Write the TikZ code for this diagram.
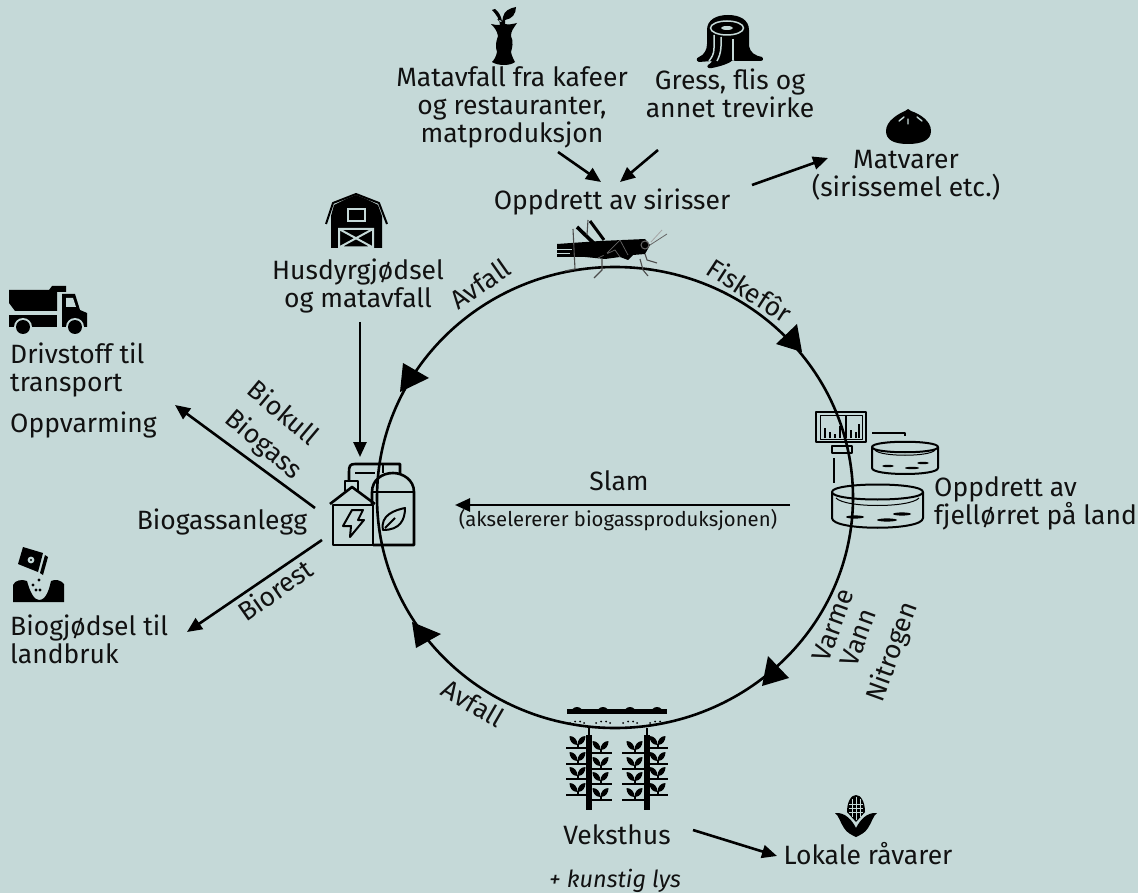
\documentclass[tikz,border=0pt]{standalone}
\usepackage{fontspec}
\setmainfont{Fira Sans}[ItalicFont=* Italic]
\usetikzlibrary{arrows.meta}
\definecolor{bg}{HTML}{C5D9D8}
\definecolor{ink}{HTML}{111111}
\tikzset{
 x=1pt,y=-1pt,
 txt/.style={font=\fontsize{26.5}{28}\selectfont,text=ink,inner sep=0pt,align=center},
 ltxt/.style={txt,align=left,anchor=west},
 small/.style={font=\fontsize{20.3}{24}\selectfont,text=ink,inner sep=0pt},
 link/.style={draw=black,line width=2.6pt,-{Triangle[length=15pt,width=13pt]}},
 ring/.style={draw=black,line width=2.6pt},
 head/.style={fill=black,draw=none},
 solid ink/.style={fill=black,draw=none},
 thick ink/.style={draw=black,line width=2.6pt,line join=round},
 thin ink/.style={draw=black,line width=1.6pt,line join=round},
}
\newcommand{\seedling}[2]{% x, y of shelf centre
 \pgfmathsetmacro{\sx}{#1}\pgfmathsetmacro{\sy}{#2}
 \draw[black,line width=2pt] (\sx,\sy) -- (\sx,\sy-4);
 \fill[black] (\sx,\sy-3) .. controls (\sx-6,\sy-3) and (\sx-8,\sy-8) .. (\sx-8,\sy-12) .. controls (\sx-3,\sy-12) and (\sx,\sy-8) .. (\sx,\sy-3) -- cycle;
 \fill[black] (\sx,\sy-3) .. controls (\sx+6,\sy-3) and (\sx+8,\sy-8) .. (\sx+8,\sy-12) .. controls (\sx+3,\sy-12) and (\sx,\sy-8) .. (\sx,\sy-3) -- cycle;
}
\begin{document}
\begin{tikzpicture}
\useasboundingbox[fill=bg] (0,0) rectangle (1138,893);
% ---- big loop
\draw[ring] (615,497.5) ellipse [x radius=238,y radius=230.5];
\fill[head] (802,352) -- (776,344) -- (797,324) -- cycle;
\fill[head] (762,686) -- (768,656) -- (789,678) -- cycle;
\fill[head] (412,622) -- (441,634) -- (416,648) -- cycle;
\fill[head] (400,392) -- (403,363) -- (429,378) -- cycle;
% ---- apple core
\path[solid ink] (497,19) .. controls (500,22) and (502,25) .. (503,17)
 .. controls (504,11) and (510,8) .. (516,7) .. controls (516,14) and (512,19) .. (505,20)
 -- (505,24) .. controls (508,25) and (513,24) .. (517,23)
 .. controls (513,29) and (511,31) .. (511,36) .. controls (514,42) and (512,48) .. (511,52)
 .. controls (512,57) and (514,60) .. (515,62) .. controls (510,66) and (498,66) .. (492,62)
 .. controls (494,60) and (496,57) .. (497,52) .. controls (495,46) and (496,42) .. (498,36)
 .. controls (497,31) and (495,28) .. (491,24) .. controls (494,25) and (498,25) .. (500,25)
 .. controls (500,20) and (496,14) .. (492,10) -- (495,9) .. controls (499,12) and (501,16) .. (502,21) -- cycle;
% ---- stump
\path[solid ink] (707,30) .. controls (707,20) and (716,15) .. (728,15)
 .. controls (740,15) and (749,20) .. (749,30) -- (749,46)
 .. controls (750,53) and (756,56) .. (762,57) .. controls (764,59) and (763,61) .. (760,61)
 -- (735,61) -- (733,60) .. controls (730,63) and (722,66) .. (712,68) .. controls (709,69) and (706,67) .. (708,65)
 .. controls (711,63) and (712,62) .. (712,61) -- (699,62) .. controls (696,61) and (696,58) .. (699,57)
 .. controls (704,55) and (707,50) .. (707,44) -- cycle;
\draw[bg,line width=1.5pt] (727,28) ellipse [x radius=16.5,y radius=7];
\fill[bg] (727,28) ellipse [x radius=6,y radius=2];
\draw[bg,line width=1.5pt] (714,35) -- (714,48) .. controls (714,54) and (712,57) .. (709,61);
\draw[bg,line width=1.5pt] (721,37) .. controls (721,44) and (722,52) .. (717,61);
\draw[bg,line width=2pt] (733,39) -- (733,60);
% ---- bun
\path[solid ink] (886,131) .. controls (886,121) and (898,114) .. (905,111) -- (908,109) -- (911,111)
 .. controls (920,114) and (931,121) .. (931,131) .. controls (931,140) and (922,144) .. (908,144)
 .. controls (894,144) and (886,140) .. (886,131) -- cycle;
\draw[bg,line width=1.4pt,line cap=round] (908,119) -- (908,124) (899,121) -- (904,117) (917,117) -- (922,121);
% ---- barn
\path[solid ink] (331,248) -- (331,216) -- (334,205) -- (346,199) -- (356,195) -- (366,199) -- (378,205) -- (382,216) -- (382,248) -- cycle;
\draw[draw=black,line width=2pt,line join=round] (326,224) -- (333,203) -- (356,194) -- (379,203) -- (387,224);
\draw[bg,line width=2pt] (348,209) rectangle (365,221);
\draw[bg,line width=2pt] (339,229) rectangle (373,247.5) (339,229) -- (373,247.5) (373,229) -- (339,247.5);
% ---- biogas plant
\draw[thick ink] (333,545) rectangle (373,505);
\draw[thick ink] (330,504) -- (352,487) -- (375,504);
\draw[thick ink] (345,491) -- (345,481) -- (358,481) -- (358,491);
\draw[thick ink] (373,545) -- (414,545) -- (414,492) .. controls (414,480) and (403,473) .. (393,473) .. controls (382,473) and (372,480) .. (372,492) -- (372,505);
\draw[thick ink] (372,492) -- (414,492);
\draw[thick ink] (349,481) -- (349,472) .. controls (349,466) and (350,464) .. (355,464) -- (400,464) -- (400,473);
\draw[thick ink] (355,473) -- (375,473) (383,464) -- (383,473);
\draw[thin ink,line width=2pt] (352,510) -- (363,510) -- (358,520) -- (364,520) -- (350,537) -- (351,526) -- (343,526) -- cycle;
\draw[thin ink,line width=2pt] (383,530) .. controls (380,515) and (395,510) .. (405,508) .. controls (405,520) and (400,530) .. (383,530) -- cycle (385,528) -- (395,518);
% ---- truck
\path[solid ink] (9,290) -- (49,290) -- (52,286) -- (66,286) -- (66,292) -- (57,292) -- (57,311) -- (15,311) -- (9,303) -- cycle;
\path[solid ink] (9,315) rectangle (57,327);
\path[solid ink] (62,294) -- (75,294) -- (80,310) -- (87,313) -- (87,327) -- (62,327) -- cycle;
\fill[bg] (66,298) -- (73,298) -- (76,307) -- (66,307) -- cycle;
\fill[bg] (23,327) circle (9) (75,327) circle (9);
\fill[black] (23,327) circle (7) (75,327) circle (7);
% ---- soil and fertiliser
\path[solid ink] (23,547) -- (43,553) -- (38,572) -- (18,564) -- cycle;
\path[solid ink] (45,555) -- (48,557) -- (43,575) -- (40,573) -- cycle;
\fill[bg] (31,560) circle (3.4);
\fill[black] (31,560) circle (1.2);
\path[solid ink] (13,602) -- (13,585) .. controls (15,580) and (22,579) .. (27,581)
 .. controls (30,592) and (34,600) .. (39,600) .. controls (46,600) and (49,590) .. (51,581)
 .. controls (55,579) and (61,580) .. (64,584) -- (64,602) -- cycle;
\fill[black] (33,585) circle (1.6) (39,580) circle (1.6) (36,590) circle (1.6) (40,590) circle (1.6);
% ---- monitor and tanks
\draw[thin ink,line width=2.2pt] (816,412) rectangle (866,442);
\draw[thin ink,line width=1pt] (820,415) rectangle (862,439);
\foreach \xx/\hh in {825/10,830/6,835/4,840/12,846/22,851/8,856/6,859/14} \draw[black,line width=1.4pt] (\xx,438) -- (\xx,438-\hh);
\draw[thin ink] (832,446) rectangle (852,453);
\draw[thin ink,line width=2pt] (834,458) -- (834,483);
\draw[thin ink,line width=2pt] (872,433) -- (905,433) -- (905,436);
\draw[thin ink,line width=2pt] (872,447) .. controls (872,454) and (938,454) .. (938,447) .. controls (938,440) and (872,440) .. (872,447) -- (872,468) .. controls (872,476) and (938,476) .. (938,468) -- (938,447);
\draw[thin ink,line width=1pt] (875,450) .. controls (880,457) and (930,457) .. (935,450);
\draw[thin ink,line width=2pt] (832,492) .. controls (832,482) and (923,482) .. (923,492) .. controls (923,502) and (832,502) .. (832,492) -- (832,518) .. controls (832,531) and (923,531) .. (923,518) -- (923,492);
\draw[thin ink,line width=1pt] (836,498) .. controls (845,508) and (910,508) .. (919,498);
\fill[black] (855,517) ellipse [x radius=9,y radius=1.6] (887,520) ellipse [x radius=10,y radius=1.6] (902,514) ellipse [x radius=9,y radius=1.6] (888,466) ellipse [x radius=6,y radius=1.2] (912,468) ellipse [x radius=7,y radius=1.2] (923,463) ellipse [x radius=6,y radius=1.2];
% ---- grasshopper
\path[solid ink] (557,244) -- (600,241) -- (645,239) -- (650,245) -- (645,254) -- (633,255) -- (628,260) -- (620,257) -- (605,259) -- (585,257) -- (557,257) -- cycle;
\draw[bg,line width=0.7pt] (557,249) -- (572,249) (557,253) -- (570,253);
\draw[black!60!white,line width=0.7pt] (605,255) -- (620,240) (620,240) -- (628,255) (598,258) -- (615,250) -- (620,257);
\draw[black,line width=3.6pt] (577,227) -- (607,256);
\draw[black,line width=3pt] (590,221) -- (604,240);
\draw[black!70,line width=1.1pt] (588,220) -- (587,235) (573,229) -- (575,269) -- (565,271);
\draw[black!70,line width=1.1pt] (602,259) -- (602,270) -- (594,278) (640,259) -- (643,270) -- (648,276) (645,254) -- (647,260) -- (657,263);
\draw[black!60,line width=1pt] (645,245) circle (4);
\draw[black!60,line width=0.8pt] (650,245) -- (667,234);
\draw[black!35,line width=0.8pt] (651,242) -- (662,230);
% ---- greenhouse
\draw[black,line width=4.5pt] (567,711.5) -- (667,711.5);
\foreach \xx in {577,603,630,657}{
 \fill[black] (\xx-6,713) arc[start angle=180,end angle=360,x radius=6,y radius=6] -- cycle;
 \fill[black] (\xx-7,723) circle (1) (\xx-2,721.5) circle (1) (\xx+3,721.5) circle (1) (\xx+7,723) circle (1);
}
\foreach \xx in {589,647}{
 \draw[black,line width=6pt] (\xx,735) -- (\xx,810);
 \draw[black,line width=2pt] (\xx,728) -- (\xx,735);
}
\foreach \xa/\xb/\offs in {566/589/0,589/612/5,622/647/5,647/668/0}{
 \foreach \yy in {748,764,779,795}{
  \pgfmathsetmacro{\yb}{\yy+\offs}
  \pgfmathsetmacro{\xm}{(\xa+\xb)/2}
  \draw[black,line width=2pt] (\xa,\yb) -- (\xb,\yb);
  \seedling{\xm}{\yb}
 }
}
% ---- corn
\path[solid ink] (835,813) .. controls (845,812) and (852,820) .. (856,828) .. controls (860,820) and (867,812) .. (877,813)
 .. controls (873,816) and (872,822) .. (868,828) .. controls (865,833) and (860,835) .. (856,837) .. controls (852,835) and (847,833) .. (844,828) .. controls (840,822) and (839,816) .. (835,813) -- cycle;
\path[solid ink] (847,812) .. controls (847,802) and (851,795) .. (856,795) .. controls (861,795) and (865,802) .. (865,812) -- (856,822) -- cycle;
\draw[bg,line width=0.7pt] (852,799) -- (852,817) (856,797) -- (856,820) (860,799) -- (860,817) (849,804) -- (863,804) (849,808) -- (863,808) (849,812) -- (863,812);
% ---- labels
\node[txt] (matavfall) at (512,107) {Matavfall fra kafeer\\og restauranter,\\matproduksjon};
\node[txt] (gress) at (730,93) {Gress, flis og\\annet trevirke};
\node[txt] (sirisser) at (612,202) {Oppdrett av sirisser};
\node[txt] (matvarer) at (906,175) {Matvarer\\(sirissemel etc.)};
\node[txt] (husdyr) at (358,286) {Husdyrgjødsel\\og matavfall};
\node[ltxt] (drivstoff) at (10,370) {Drivstoff til\\transport};
\node[ltxt] (oppvarming) at (10,425) {Oppvarming};
\node[txt] (biogass) at (222,522) {Biogassanlegg};
\node[ltxt] (biogjodsel) at (10,639) {Biogjødsel til\\landbruk};
\node[txt] (slam) at (619,481) {Slam};
\node[small] (aksel) at (618,520) {(akselererer biogassproduksjonen)};
\node[ltxt] (fjell) at (934,503) {Oppdrett av\\fjellørret på land};
\node[txt] (veksthus) at (617,835) {Veksthus};
\node[txt] (lokale) at (868,854) {Lokale råvarer};
\node[small,font=\fontsize{23.5}{24}\selectfont\itshape] (lys) at (615,881) {+ kunstig lys};
\node[txt,rotate=35] (avfalla) at (480,284) {Avfall};
\node[txt,rotate=-33] (fisk) at (750,290) {Fiskefôr};
\node[txt,rotate=-40] (biokull) at (284,412) {Biokull};
\node[txt,rotate=-40] (biogas2) at (263,445) {Biogass};
\node[txt,rotate=35] (biorest) at (275,590) {Biorest};
\node[txt,rotate=-30] (avfallb) at (473,703) {Avfall};
\node[txt,rotate=70] (varme) at (833,625) {Varme};
\node[txt,rotate=70] (vann) at (858,638) {Vann};
\node[txt,rotate=70] (nitrogen) at (893,652) {Nitrogen};
% ---- connectors
\coordinate (a1) at (558,152); \coordinate (a1e) at (601,182);
\coordinate (a2) at (658,150); \coordinate (a2e) at (620,182);
\coordinate (a3) at (752,185); \coordinate (a3e) at (828,158);
\coordinate (a4) at (360,322); \coordinate (a4e) at (360,457);
\coordinate (a5) at (315,508); \coordinate (a5e) at (175,405);
\coordinate (a6) at (322,540); \coordinate (a6e) at (187,632);
\coordinate (a7) at (693,830); \coordinate (a7e) at (777,856);
\coordinate (a8) at (790,505); \coordinate (a8e) at (455,505);
\foreach \p/\q in {a1/a1e,a2/a2e,a3/a3e,a4/a4e,a5/a5e,a6/a6e,a7/a7e,a8/a8e} \draw[link] (\p) -- (\q);
\end{tikzpicture}
\end{document}
